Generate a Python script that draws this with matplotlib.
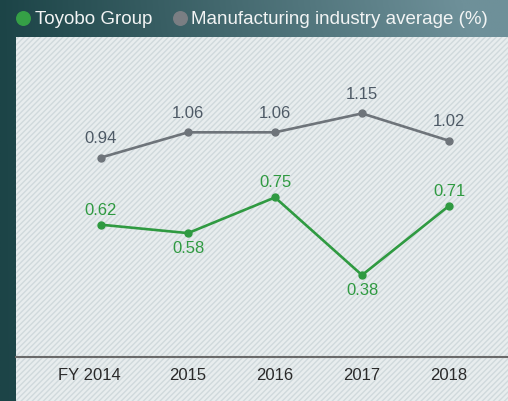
import matplotlib
matplotlib.use("Agg")
import matplotlib.pyplot as plt
import numpy as np
from matplotlib.patches import Rectangle
from matplotlib.transforms import ScaledTranslation

years = ["FY 2014", "2015", "2016", "2017", "2018"]
toyobo = [0.62, 0.58, 0.75, 0.38, 0.71]
manufacturing = [0.94, 1.06, 1.06, 1.15, 1.02]
toyobo_label_pos = ["above", "below", "above", "below", "above"]

plt.rcParams['font.family'] = ['Liberation Sans', 'DejaVu Sans']

W, H = 508, 401
fig = plt.figure(figsize=(W / 100, H / 100), dpi=100)

# gradient background
bg = fig.add_axes([0, 0, 1, 1], zorder=0)
bg.set_axis_off()
gx = np.linspace(0, 1, 256)
gy = np.linspace(0, 1, 64)
X, Y = np.meshgrid(gx, gy)
c0 = np.array([0x1c, 0x44, 0x47]) / 255
c1 = np.array([0x6e, 0x90, 0x99]) / 255
t = np.clip(0.75 * X + 0.35 * (1 - Y) * X, 0, 1)
img = c0[None, None, :] * (1 - t[..., None]) + c1[None, None, :] * t[..., None]
bg.imshow(img, extent=[0, 1, 0, 1], aspect='auto', origin='upper')
bg.set_xlim(0, 1)
bg.set_ylim(0, 1)

# light textured panel
panel = Rectangle((16 / W, 0), 1 - 16 / W, 1 - 37 / H, transform=bg.transAxes,
                  facecolor='#e8edee', edgecolor='#d0d9dc', hatch='//////', lw=0, zorder=1)
bg.add_patch(panel)

ax = fig.add_axes([16 / W, (H - 357) / H, (W - 16) / W, (357 - 37) / H], zorder=2)
ax.patch.set_alpha(0)
x = np.arange(len(years))
ax.set_xlim(-0.977, 4.678)
ax.set_ylim(-0.01, 1.514)

green = '#2f9a41'
gray = '#6e747a'
ax.plot(x, manufacturing, color=gray, lw=1.9, marker='o', ms=5, zorder=3, clip_on=False)
ax.plot(x, toyobo, color=green, lw=1.9, marker='o', ms=5, zorder=3, clip_on=False)

for xi, v in zip(x, manufacturing):
    ax.annotate(f"{v:.2f}", (xi, v), xytext=(0, 8.5), textcoords='offset points',
                ha='center', va='bottom', fontsize=12, color='#4e5a66')
for xi, v, p in zip(x, toyobo, toyobo_label_pos):
    off = 5 if p == "above" else -6
    ax.annotate(f"{v:.2f}", (xi, v), xytext=(0, off), textcoords='offset points',
                ha='center', va='bottom' if p == "above" else 'top',
                fontsize=12, color=green)

for s in ['top', 'right', 'left']:
    ax.spines[s].set_visible(False)
ax.spines['bottom'].set_color('#6a6a6a')
ax.spines['bottom'].set_linewidth(1.5)
ax.set_yticks([])
ax.set_xticks(x)
ax.set_xticklabels(years, fontsize=12, color='#2a2a2a')
ax.tick_params(axis='x', length=0, pad=8)
first = ax.get_xticklabels()[0]
first.set_transform(first.get_transform() + ScaledTranslation(-0.12, 0, fig.dpi_scale_trans))

# legend
bg.text(35 / W, 1 - 19 / H, "Toyobo Group", color='#f2f4f4', fontsize=13.5, va='center', ha='left')
bg.text(191 / W, 1 - 19 / H, "Manufacturing industry average (%)", color='#f2f4f4', fontsize=13.5,
        va='center', ha='left')
bg.scatter([23 / W], [1 - 18 / H], s=95, color='#35a046', zorder=5)
bg.scatter([180 / W], [1 - 18 / H], s=95, color='#7a7e83', zorder=5)

fig.savefig("out.png", dpi=100)
